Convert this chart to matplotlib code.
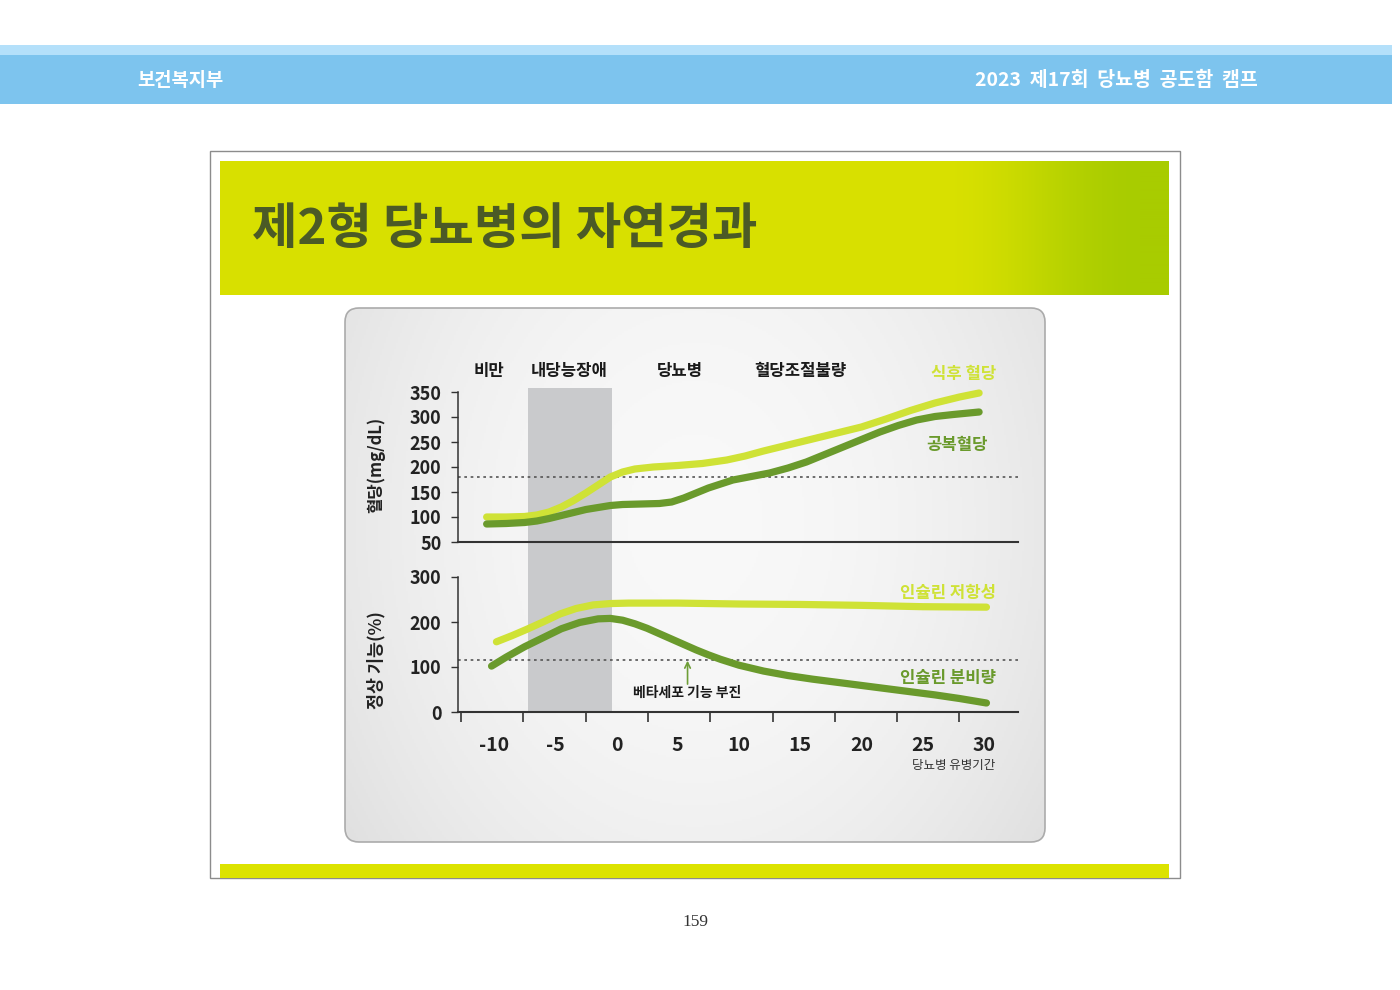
#!/usr/bin/env python3
"""
Slide page: natural course of type 2 diabetes (blood glucose / beta-cell function).
"""

import matplotlib
import numpy as np

matplotlib.use('Agg')
import matplotlib.pyplot as plt
import matplotlib.transforms as mtransforms
from matplotlib.patches import Rectangle, FancyBboxPatch

plt.rcParams['font.family'] = ['Noto Sans CJK KR', 'DejaVu Sans']

# ── Data ────────────────────────────────────────────────────────────────────
# top panel: blood glucose (mg/dL) vs years of diabetes
post_x = [-10.6, -9.0, -7.5, -6.5, -5.5, -4.5, -3.5, -2.5, -1.5, -0.5, 0.5, 1.5,
          3.0, 5.0, 7.0, 9.0, 10.5, 12.0, 14.0, 16.0, 18.0, 20.0, 22.0, 24.0,
          26.0, 28.0, 29.6]
post_y = [100, 100, 101, 104, 110, 120, 133, 148, 164, 180, 190, 196,
          200, 203, 207, 214, 222, 232, 244, 256, 268, 280, 296, 313,
          328, 340, 348]
fast_x = [-10.6, -9.0, -7.5, -6.5, -5.5, -4.5, -3.5, -2.5, -1.5, -0.5, 0.5, 2.0,
          3.5, 4.5, 5.5, 6.5, 7.5, 8.5, 9.5, 11.0, 12.5, 14.0, 15.5, 17.0,
          18.5, 20.0, 21.5, 23.0, 24.5, 26.0, 27.5, 29.6]
fast_y = [86, 87, 89, 92, 97, 103, 109, 115, 119, 123, 125, 126,
          127, 130, 138, 148, 158, 166, 174, 181, 188, 198, 210, 225,
          240, 255, 270, 283, 294, 301, 305, 310]

# bottom panel: normal function (%)
resist_x = [-9.8, -8.5, -7.3, -6.0, -4.6, -3.3, -1.9, -0.5, 1.0, 5.0, 10.0,
            15.0, 20.0, 25.0, 30.2]
resist_y = [156, 170, 184, 200, 218, 230, 238, 241, 242, 242, 240,
            239, 237, 234, 233]
secret_x = [-10.2, -9.0, -7.5, -6.0, -4.5, -3.0, -1.5, -0.5, 0.5, 1.5, 2.5,
            3.5, 4.5, 5.5, 6.5, 7.5, 8.5, 10.0, 12.0, 14.0, 16.0, 18.0, 20.0,
            22.0, 24.0, 26.0, 28.0, 30.2]
secret_y = [102, 122, 145, 165, 185, 199, 207, 208, 204, 196, 186,
            174, 162, 150, 138, 127, 117, 104, 91, 81, 73, 66, 59,
            52, 45, 38, 30, 20]

glucose_ticks = [50, 100, 150, 200, 250, 300, 350]
function_ticks = [0, 100, 200, 300]
year_ticks = [-10, -5, 0, 5, 10, 15, 20, 25, 30]
year_tick_marks = [-12.7, -7.6, -2.5, 2.6, 7.6, 12.8, 17.8, 22.9, 28.0]
glucose_cut = 180
function_cut = 115
igt_band = (-7.2, -0.4)

stage_labels = ['비만', '내당능장애', '당뇨병', '혈당조절불량']
stage_x = [-10.4, -3.9, 5.2, 15.0]

# ── Colours ────────────────────────────────────────────────────────────────
LIGHT = '#CFE236'
DARK = '#6A9A2C'
AXIS = '#333333'

W, H = 1400, 990


def fx(px):
    return px / W


def fy(py):
    return 1 - py / H


def box(x0, y0, x1, y1):
    return [fx(x0), fy(y1), (x1 - x0) / W, (y1 - y0) / H]


fig = plt.figure(figsize=(14, 9.9), dpi=100)
fig.patch.set_facecolor('white')

# ── Page header ────────────────────────────────────────────────────────────
fig.add_artist(Rectangle((fx(0), fy(55)), fx(1392), fy(45) - fy(55),
                         transform=fig.transFigure, fc='#B4E0FA', ec='none', zorder=-10))
fig.add_artist(Rectangle((fx(0), fy(104)), fx(1392), fy(55) - fy(104),
                         transform=fig.transFigure, fc='#7DC4EE', ec='none', zorder=-10))
fig.text(fx(137), fy(80), '보건복지부', color='white', fontsize=13.5,
         fontweight='bold', ha='left', va='center')
fig.text(fx(1258), fy(80), '2023  제17회  당뇨병  공도함  캠프', color='white',
         fontsize=14, fontweight='bold', ha='right', va='center')

# ── Slide frame ────────────────────────────────────────────────────────────
fig.add_artist(Rectangle((fx(210), fy(878)), (1180 - 210) / W, (878 - 151) / H,
                         transform=fig.transFigure, fc='white', ec='#8C8C8C',
                         lw=1, zorder=-10))

# title band with gradient
ax_title = fig.add_axes(box(220, 161, 1169, 295))
ax_title.set_zorder(-5)
ax_title.axis('off')
cols = np.arange(220, 1169)
t = np.clip((cols - 940) / 200, 0, 1)
t = t * t * (3 - 2 * t)
c_left = np.array([0.85, 0.88, 0.0])
c_right = np.array([0.66, 0.80, 0.0])
grad = (c_left[None, :] * (1 - t[:, None]) + c_right[None, :] * t[:, None])[None, :, :]
ax_title.imshow(grad, aspect='auto', extent=[0, 1, 0, 1])
ax_title.set_xlim(0, 1)
ax_title.set_ylim(0, 1)
fig.text(fx(252), fy(229), '제2형 당뇨병의 자연경과', fontsize=35.5,
         fontweight='bold', color='#4B5A26', ha='left', va='center')

# bottom band
fig.add_artist(Rectangle((fx(220), fy(878)), (1169 - 220) / W, (878 - 864) / H,
                         transform=fig.transFigure, fc='#DCE300', ec='none', zorder=-4))

# ── Grey chart panel ───────────────────────────────────────────────────────
pw, ph = 702, 536
ax_panel = fig.add_axes(box(344, 307, 344 + pw, 307 + ph))
ax_panel.set_zorder(-5)
ax_panel.axis('off')
gx, gy = np.meshgrid(np.linspace(-1, 1, 351), np.linspace(-0.7, 1.05, 268))
val = 0.975 - 0.065 * gx ** 2 - 0.03 * gy ** 2
img = ax_panel.imshow(np.dstack([val, val, val]), extent=[0, pw, ph, 0], aspect='auto')
panel = FancyBboxPatch((1, 1), pw - 2, ph - 2, boxstyle='round,pad=0,rounding_size=14',
                       fc='none', ec='#ABABAB', lw=1.2)
ax_panel.add_patch(panel)
img.set_clip_path(panel)
ax_panel.set_xlim(0, pw)
ax_panel.set_ylim(ph, 0)

# ── Chart axes ─────────────────────────────────────────────────────────────
ax_top = fig.add_axes(box(458, 388, 1018, 542))
ax_bot = fig.add_axes(box(458, 577, 1018, 712))
xlim = ((458 - 616.5) / 12.25, (1018 - 616.5) / 12.25)

for ax in (ax_top, ax_bot):
    ax.set_facecolor('none')
    ax.set_xlim(*xlim)
    ax.spines['top'].set_visible(False)
    ax.spines['right'].set_visible(False)
    ax.spines['left'].set_color(AXIS)
    ax.spines['bottom'].set_color(AXIS)
    ax.spines['left'].set_linewidth(1.1)
    ax.spines['bottom'].set_linewidth(1.5)
    ax.tick_params(axis='y', length=5, width=1, color=AXIS, pad=7,
                   labelsize=13, labelcolor='#222222')

ax_top.set_ylim(50, 358)
ax_top.spines['left'].set_bounds(50, 350)
ax_top.set_yticks(glucose_ticks)
ax_top.set_xticks([])

ax_bot.set_ylim(0, 300)
ax_bot.spines['left'].set_bounds(0, 300)
ax_bot.set_yticks(function_ticks)
ax_bot.set_xticks(year_ticks)
ax_bot.set_xticklabels([str(v) for v in year_ticks])
ax_bot.set_xticks(year_tick_marks, minor=True)
ax_bot.tick_params(axis='x', which='major', length=0, pad=17, labelsize=14,
                   labelcolor='#222222')
ax_bot.tick_params(axis='x', which='minor', length=7, width=1.2, color=AXIS)

for ax in (ax_top, ax_bot):
    for lab in ax.get_yticklabels() + ax.get_xticklabels():
        lab.set_fontweight('bold')

# impaired glucose tolerance band, running through both panels
blend = mtransforms.blended_transform_factory(ax_top.transData, fig.transFigure)
ax_top.add_patch(Rectangle((igt_band[0], fy(712)), igt_band[1] - igt_band[0],
                           fy(388) - fy(712), transform=blend, fc='#C9CACC',
                           ec='none', clip_on=False, zorder=0.5))

# threshold lines
ax_top.axhline(glucose_cut, color='#555555', lw=1.2, ls=(0, (1.6, 2.2)), zorder=1)
ax_bot.axhline(function_cut, color='#555555', lw=1.2, ls=(0, (1.6, 2.2)), zorder=1)

# curves
line_kw = dict(lw=5.2, solid_capstyle='round', solid_joinstyle='round', zorder=3)
ax_top.plot(post_x, post_y, color=LIGHT, **line_kw)
ax_top.plot(fast_x, fast_y, color=DARK, **line_kw)
ax_bot.plot(resist_x, resist_y, color=LIGHT, **line_kw)
ax_bot.plot(secret_x, secret_y, color=DARK, **line_kw)

# stage labels
for lab, x in zip(stage_labels, stage_x):
    ax_top.text(x, 392, lab, ha='center', va='center', fontsize=12,
                fontweight='bold', color='#1A1A1A', clip_on=False)

# series labels
ax_top.text(31.0, 386, '식후 혈당', ha='right', va='center', fontsize=12,
            fontweight='bold', color=LIGHT, clip_on=False)
ax_top.text(30.3, 244, '공복혈당', ha='right', va='center', fontsize=12,
            fontweight='bold', color=DARK, clip_on=False)
ax_bot.text(31.0, 264, '인슐린 저항성', ha='right', va='center', fontsize=12,
            fontweight='bold', color=LIGHT, clip_on=False)
ax_bot.text(31.0, 76, '인슐린 분비량', ha='right', va='center', fontsize=12,
            fontweight='bold', color=DARK, clip_on=False)

# beta-cell annotation
ax_bot.annotate('', xy=(5.8, 114), xytext=(5.8, 62),
                arrowprops=dict(arrowstyle='->', color='#6E9E36', lw=1.2,
                                shrinkA=0, shrinkB=0), zorder=4)
ax_bot.text(5.8, 42, '베타세포 기능 부진', ha='center', va='center', fontsize=10,
            fontweight='bold', color='#1A1A1A')
ax_bot.text(30.9, -118, '당뇨병 유병기간', ha='right', va='center', fontsize=9,
            color='#333333', clip_on=False)

# axis titles
fig.text(fx(376), fy(465), '혈당(mg/dL)', rotation=90, ha='center', va='center',
         fontsize=12, fontweight='bold', color='#222222')
fig.text(fx(376), fy(660), '정상 기능(%)', rotation=90, ha='center', va='center',
         fontsize=12.5, fontweight='bold', color='#222222')

# page number
fig.text(fx(695), fy(922), '159', family=['Liberation Serif', 'DejaVu Serif'],
         fontsize=12.5, color='#333333', ha='center', va='center')

fig.savefig('out.png', dpi=100)
plt.close(fig)
